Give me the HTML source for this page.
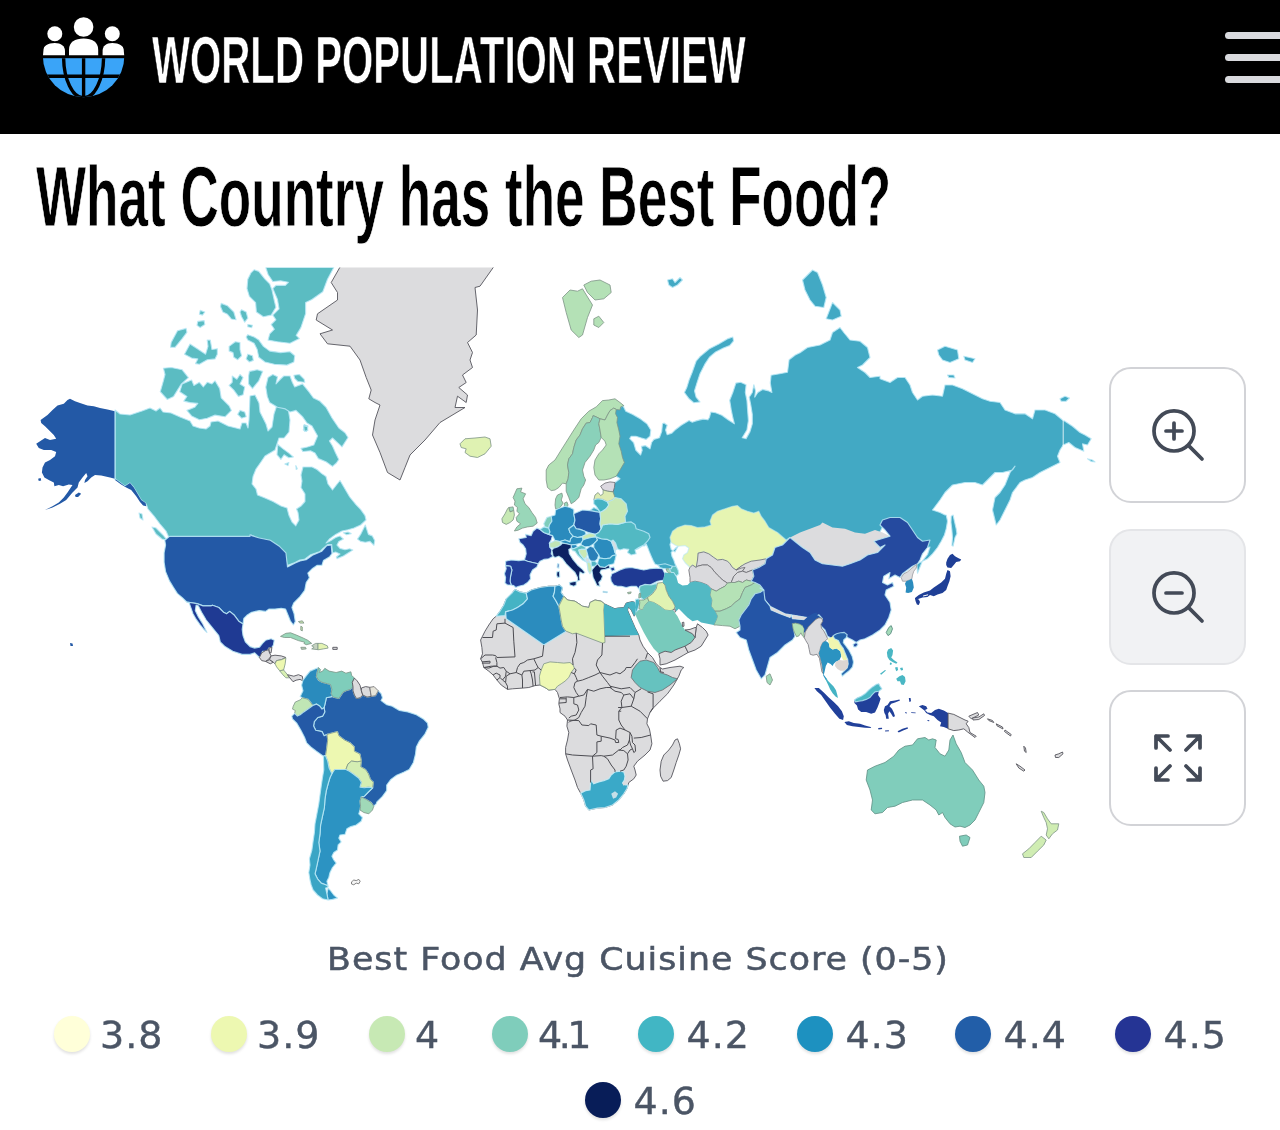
<!DOCTYPE html>
<html lang="en">
<head>
<meta charset="utf-8">
<title>What Country has the Best Food?</title>
<style>
*{box-sizing:border-box;margin:0;padding:0}
html,body{width:1280px;height:1130px;overflow:hidden;background:#fff}
body{position:relative;font-family:"Liberation Sans",sans-serif}
#hdr{position:absolute;left:0;top:0;width:1280px;height:134px;background:#000}
#brand{position:absolute;left:152px;top:19.5px;height:80px;line-height:80px;font-size:67px;font-weight:700;color:#fff;white-space:nowrap;transform-origin:0 50%;transform:scaleX(.6005);-webkit-text-stroke:.7px #000}
#title{position:absolute;left:36px;top:151px;height:90px;line-height:90px;font-size:86px;font-weight:700;color:#000;white-space:nowrap;transform-origin:0 50%;transform:scaleX(.6173);-webkit-text-stroke:.8px #fff}
.bar{position:absolute;left:1225px;width:70px;height:7px;border-radius:3.5px;background:#d9dade}
#map{position:absolute;left:0;top:0}
.btn{position:absolute;left:1109px;width:137px;height:136px;border:2.5px solid #d2d3d7;border-radius:22px;background:#fff}
.btn svg{position:absolute;left:35px;top:34px;width:64px;height:64px;fill:none;stroke:#434a57;stroke-width:1.4;stroke-linecap:round;stroke-linejoin:round}
#ltitle{position:absolute;left:0;top:938px;width:1276px;text-align:center;font-family:"DejaVu Sans",sans-serif;font-size:32.5px;letter-spacing:.94px;line-height:42px;color:#4b5565;white-space:nowrap;transform:scaleX(1.07);transform-origin:50% 50%;-webkit-text-stroke:.55px #4b5565}
.li{position:absolute;height:44px;line-height:44px;font-family:"DejaVu Sans",sans-serif;font-size:38px;letter-spacing:1px;color:#4b5565;white-space:nowrap;-webkit-text-stroke:.4px #4b5565}
.dot{position:absolute;width:36px;height:36px;border-radius:50%;box-shadow:0 2px 3px rgba(0,0,0,.12)}
</style>
</head>
<body>
<div id="hdr">
<svg id="logo" style="position:absolute;left:0;top:0" width="140" height="134" viewBox="0 0 140 134">
<defs><clipPath id="gc"><circle cx="83.6" cy="56.5" r="40.7"/></clipPath><clipPath id="lh"><rect x="40" y="58.2" width="90" height="42"/></clipPath></defs>
<g clip-path="url(#gc)">
<rect x="40" y="58.2" width="90" height="42" fill="#3aa4f8"/>
<g clip-path="url(#lh)" fill="none" stroke="#000" stroke-width="3.4">
<path d="M40 76.3H128M83.6 56V100"/>
<ellipse cx="83.6" cy="56.5" rx="20" ry="41.5"/>
</g>
<g fill="#fff">
<path d="M69 55.2V50C69 42 75 38.6 83.6 38.6S98.2 42 98.2 50V55.2Z"/>
<path d="M42 55.2V52C42.8 46 48 43 54.8 43C61 43 65 46 65 51V55.2Z"/>
<path d="M102.6 55.2V51C102.6 46 106 43 112.3 43C119 43 124.3 46 125 52V55.2Z"/>
</g>
</g>
<g fill="#fff"><circle cx="83.6" cy="27" r="9.8"/><circle cx="54.8" cy="33.7" r="7.5"/><circle cx="112.3" cy="33.7" r="7.5"/></g>

</svg>
<div id="brand">WORLD POPULATION REVIEW</div>
<div class="bar" style="top:32px"></div><div class="bar" style="top:54px"></div><div class="bar" style="top:76px"></div>
</div>
<div id="title">What Country has the Best Food?</div>
<svg id="map" width="1280" height="1130" viewBox="0 0 1280 1130">
<defs><clipPath id="mc"><rect x="0" y="267.5" width="1280" height="640"/></clipPath></defs>
<g clip-path="url(#mc)" stroke-linejoin="round">
<path d="M623.4,406.6L625.8,411.2L632.8,414.4L640.6,419.1L646.9,423.8L650.8,430.0L650.0,436.2L646.1,439.4L640.6,437.8L635.9,436.2L631.2,436.2L629.7,438.6L633.6,442.5L635.9,450.3L640.6,455.0L642.2,450.3L641.4,446.4L645.3,445.6L650.0,448.8L651.6,442.5L653.9,439.4L659.4,437.8L661.7,431.6L662.5,423.8L664.1,423.0L667.2,425.3L665.6,430.0L667.2,434.7L671.9,433.1L675.0,430.0L681.2,425.3L689.1,420.6L692.2,422.2L696.9,420.6L703.1,419.1L707.8,419.8L709.4,417.5L710.9,412.0L715.6,412.8L721.9,415.2L728.1,419.8L734.4,423.8L732.8,417.5L731.2,409.7L729.7,400.3L732.8,392.5L735.9,383.1L740.6,382.3L746.1,384.7L745.3,392.5L746.9,400.3L747.7,411.2L748.4,420.6L746.9,430.0L742.2,437.8L746.1,438.6L750.0,431.6L752.3,423.8L752.3,414.4L750.8,405.0L749.2,397.2L752.3,392.5L753.9,384.7L755.5,390.9L754.7,397.2L757.8,392.5L762.5,389.4L768.8,390.9L771.9,392.5L770.3,383.1L771.1,375.3L779.7,373.8L787.5,372.2L789.1,359.7L795.3,355.0L800.0,352.7L807.5,347.5L820.0,345.0L830.0,340.0L832.5,332.5L840.0,327.5L843.8,332.5L850.0,340.0L860.0,341.2L867.5,347.5L870.0,357.5L862.5,365.0L857.5,367.5L865.0,372.5L870.0,377.5L880.0,376.2L880.0,378.8L890.0,382.5L897.5,377.5L905.0,377.5L910.0,385.0L912.5,392.5L917.5,400.0L922.5,396.2L932.5,395.0L942.5,396.2L945.0,385.0L952.5,385.0L962.5,388.8L972.5,393.8L982.5,398.8L990.0,401.2L1000.0,402.5L1005.0,410.0L1015.0,413.8L1025.0,413.8L1032.5,418.8L1035.0,410.0L1045.0,410.0L1055.0,413.8L1062.5,420.0L1065.0,421.2L1072.5,426.2L1080.0,432.5L1085.0,435.0L1091.2,438.8L1087.5,445.0L1082.5,443.8L1083.8,451.2L1075.0,447.5L1068.8,442.5L1063.2,445.0L1060.0,450.0L1057.5,456.2L1060.0,462.5L1050.0,467.5L1040.0,472.5L1032.5,477.5L1025.0,480.0L1020.0,482.5L1012.5,492.5L1010.0,500.0L1005.0,510.0L1000.0,520.0L996.2,525.0L992.5,510.0L995.0,497.5L1000.0,492.5L1005.0,485.0L1010.0,472.5L1015.0,466.2L1012.5,470.0L1002.5,472.5L995.0,472.5L987.5,480.0L982.5,485.0L975.0,482.5L965.0,482.5L952.5,485.0L945.0,492.5L940.0,500.0L932.5,510.0L940.0,512.5L945.0,515.0L946.2,515.0L947.5,521.2L946.2,528.8L944.4,535.0L941.2,541.2L937.5,547.5L932.5,553.8L927.5,558.8L922.5,561.2L918.8,563.1L916.9,564.4L917.5,573.2L920.0,567.0L922.5,560.8L927.5,554.5L930.0,547.0L922.5,548.2L917.5,544.5L912.5,537.0L907.5,529.5L900.0,524.5L890.0,524.5L882.5,527.0L880.0,532.0L885.0,537.0L890.0,543.2L882.5,539.5L875.0,537.0L865.0,540.8L855.0,539.5L845.0,535.8L832.5,534.5L822.5,529.5L820.0,532.0L810.0,535.8L800.0,539.5L790.0,544.5L786.2,547.0L777.5,539.5L768.8,534.5L765.0,528.2L761.2,523.2L758.8,518.2L753.8,520.1L747.5,518.2L741.2,515.8L737.5,512.6L732.5,513.2L725.0,515.8L717.5,518.2L712.5,522.0L710.0,528.2L711.2,532.0L705.0,533.9L697.5,534.5L691.2,532.6L685.0,532.0L677.5,534.5L672.5,538.2L670.0,544.5L671.2,549.5L671.9,550.1L675.0,552.0L678.1,546.2L676.2,547.5L673.8,550.0L671.2,552.5L671.9,556.2L673.8,560.0L675.0,563.8L676.2,566.2L676.2,571.2L672.5,571.2L668.8,570.0L665.0,568.8L660.0,567.5L658.1,565.2L655.0,564.0L653.1,560.6L651.2,556.2L649.4,551.9L647.5,546.9L646.2,544.0L644.4,546.0L641.2,545.6L635.2,549.6L637.8,549.0L641.5,546.5L644.0,542.8L644.0,538.4L641.5,535.2L635.2,531.5L629.0,527.8L626.5,524.6L620.2,525.2L619.6,522.2L619.0,516.2L621.5,511.2L620.2,503.8L615.2,498.8L609.0,497.5L607.1,491.9L608.4,487.5L615.0,482.5L620.0,478.8L616.2,476.2L610.2,476.2L614.0,470.0L618.4,462.5L616.5,457.5L615.2,451.2L612.8,443.8L614.0,436.2L612.8,430.0L610.9,422.5L611.5,417.5L609.6,413.8L610.2,409.4L614.0,410.0L620.6,406.9L623.8,405.6Z" fill="#42a9c4" stroke="rgba(185,232,246,.85)" stroke-width="1.15"/>
<path d="M590.0,510.6L593.8,507.5L598.8,510.0L600.0,512.5Z" fill="#42a9c4" stroke="rgba(185,232,246,.85)" stroke-width="1.15"/>
<path d="M515.0,589.4L520.0,591.9L526.2,593.1L531.2,590.0L540.0,587.5L548.8,586.2L555.0,586.2L559.4,585.0L562.5,587.5L561.2,592.5L563.8,596.2L567.5,600.0L575.0,601.2L582.5,606.2L588.8,607.5L590.0,602.5L595.0,600.0L601.2,601.2L604.4,603.8L615.0,608.8L617.5,608.0L623.8,607.5L626.2,603.0L632.5,601.5L635.0,602.5L635.5,613.8L634.2,616.2L631.2,610.0L628.5,607.0L627.5,610.0L631.2,618.8L635.0,627.5L638.8,635.0L640.0,640.0L643.0,646.2L647.5,652.5L652.5,657.5L656.2,663.8L660.0,667.5L662.5,669.0L670.0,667.5L680.0,666.2L683.8,667.5L681.2,670.0L678.8,676.2L673.8,685.0L667.5,693.8L660.0,701.2L653.8,707.5L650.0,712.5L647.5,718.8L646.9,723.8L649.4,728.8L650.6,735.0L651.9,743.8L650.0,750.0L645.0,755.0L637.5,761.2L633.8,766.2L635.0,770.0L636.2,775.0L633.8,778.8L628.8,782.5L628.1,785.0L626.9,788.8L623.8,793.8L618.8,800.0L612.5,805.0L605.0,807.5L597.5,808.1L588.8,810.0L585.6,806.2L583.8,800.0L580.6,793.1L577.5,787.5L575.0,780.0L571.2,770.0L567.5,760.0L565.6,753.8L565.6,747.5L567.5,740.0L568.8,732.5L566.9,726.2L567.5,720.0L565.0,716.2L560.0,712.5L560.0,708.8L558.8,703.8L559.4,698.8L557.5,692.5L555.0,689.4L548.8,690.0L545.0,687.5L540.0,685.0L535.0,685.6L528.8,687.5L522.5,688.1L512.5,688.8L507.5,689.4L501.2,685.0L496.9,680.0L493.1,675.0L488.8,671.2L483.8,667.5L482.5,662.5L480.6,658.8L482.5,653.8L481.9,647.5L480.6,640.0L482.5,636.2L485.0,631.2L488.8,625.0L493.1,618.8L496.2,616.2L500.0,611.2L503.8,605.0L506.2,598.8L512.5,592.5Z" fill="#dcdcde" stroke="#55555c" stroke-width="0.9"/>
<path d="M115.0,410.0L120.0,414.0L130.0,415.0L142.0,411.0L150.0,408.0L156.0,411.0L160.0,408.0L163.0,412.0L171.0,413.0L180.0,417.0L190.0,421.0L193.0,426.0L199.0,428.0L206.0,429.0L210.0,426.0L211.0,422.0L218.0,421.0L228.0,426.0L240.0,429.0L242.0,423.0L246.0,423.0L248.0,428.0L249.0,420.0L250.0,396.0L255.0,395.0L259.0,403.0L260.0,412.0L263.0,418.0L266.0,424.0L268.0,431.0L272.0,427.0L274.0,414.0L277.0,405.0L281.0,403.0L288.0,408.0L290.0,420.0L289.0,432.0L284.0,438.0L279.0,438.0L275.0,450.0L265.0,456.0L260.6,462.5L256.0,469.0L253.0,476.5L252.0,484.0L256.0,489.0L257.5,495.0L265.0,498.0L273.0,501.5L281.0,506.0L287.0,508.0L289.0,515.6L292.0,522.0L295.8,525.8L299.0,520.0L298.0,512.5L296.5,509.0L301.0,506.0L305.0,501.5L305.0,494.0L301.0,487.5L302.0,481.0L301.0,475.0L303.0,467.0L312.0,467.0L317.0,469.5L321.5,473.4L326.0,476.5L328.0,484.0L332.5,490.0L336.4,485.0L340.0,480.5L345.0,489.0L349.7,497.0L356.0,504.7L360.6,509.4L365.0,515.6L366.0,520.0L360.6,525.0L354.0,528.0L348.0,529.7L342.0,531.0L335.6,534.4L329.4,539.0L326.0,543.0L331.0,540.5L335.6,537.5L340.0,536.0L343.4,539.0L338.8,541.4L337.0,545.0L340.0,548.4L345.0,549.7L349.7,548.8L352.8,550.0L343.4,556.0L337.0,558.6L336.4,557.0L340.0,554.0L335.6,552.0L332.5,553.0L331.7,544.5L327.8,544.5L323.0,548.4L320.0,551.5L310.6,554.7L304.4,559.4L299.7,560.0L295.0,562.5L287.0,565.6L285.6,556.0L282.5,551.5L277.8,546.9L270.0,540.6L259.0,539.0L251.0,535.0L250.5,536.7L168.6,536.7L166.0,531.0L160.0,524.0L154.0,516.0L148.0,509.0L146.5,505.0L145.6,503.1L141.2,500.0L137.5,493.8L133.8,487.5L130.0,483.1L125.0,486.2L120.0,482.5L115.0,478.8Z" fill="#5bbcc2" stroke="rgba(185,232,246,.85)" stroke-width="1.15"/>
<path d="M357.5,539.1L360.6,534.4L365.3,525.0L366.9,529.7L368.4,534.4L372.3,535.9L374.7,540.6L373.9,545.3L370.0,541.4L365.3,542.2L360.6,541.4ZM343.4,532.8L348.1,532.0L351.2,533.6L346.6,534.7Z" fill="#5bbcc2" stroke="rgba(185,232,246,.85)" stroke-width="1.15"/>
<path d="M152.0,527.0L156.0,528.0L163.0,535.0L167.0,540.0L162.0,539.0L156.0,534.0ZM139.0,513.0L142.0,514.0L143.0,520.0L140.0,518.0Z" fill="#5bbcc2" stroke="rgba(185,232,246,.85)" stroke-width="1.15"/>
<path d="M268.0,377.6L265.8,387.0L267.3,396.4L269.7,402.6L277.5,407.3L285.3,408.9L290.0,412.0L296.0,410.4L302.5,416.7L307.0,423.0L312.0,426.0L317.6,436.0L313.8,445.0L307.5,447.0L301.0,448.4L302.8,451.5L310.6,450.8L315.0,453.0L318.4,458.6L326.0,461.7L332.5,466.4L336.4,463.0L338.8,459.4L335.6,453.0L332.5,446.0L329.4,441.0L332.5,438.0L338.8,443.8L342.0,446.9L348.0,437.5L345.0,432.8L338.8,428.0L332.0,418.0L326.0,407.3L319.7,401.0L313.4,398.0L308.8,391.7L302.5,383.9L294.7,387.0L292.3,382.3L290.0,376.0L283.8,376.0L280.6,379.0L276.0,383.9L277.5,376.8L272.8,374.5Z" fill="#5bbcc2" stroke="rgba(185,232,246,.85)" stroke-width="1.15"/>
<path d="M265.8,267.5L333.8,267.5L327.5,279.2L322.8,291.7L311.9,299.5L305.6,302.6L305.6,313.6L300.9,327.6L296.2,335.4L299.4,338.6L290.0,343.2L277.5,341.7L268.1,340.1L269.7,333.9L274.4,329.2L271.2,324.5L275.9,319.8L272.8,315.1L279.1,308.9L277.5,299.5L272.8,288.6L275.9,285.4L285.3,285.4L288.4,282.3L280.6,280.8L272.8,281.5L268.1,274.5ZM254.1,269.8L258.8,271.4L265.0,279.2L269.7,283.9L272.0,290.1L274.4,301.1L275.9,307.3L271.2,315.1L263.4,316.7L256.4,312.0L255.6,302.6L249.4,296.4L247.0,288.6L247.8,279.2L250.9,272.9ZM247.8,334.7L254.1,337.0L258.8,340.1L263.4,346.4L269.7,351.1L280.6,352.6L290.0,351.8L294.7,355.8L293.9,362.0L286.9,365.1L274.4,364.3L265.0,362.0L258.8,357.3L257.2,349.5L254.1,343.2L247.8,340.1L246.2,337.0ZM221.2,303.4L227.5,305.8L233.8,312.0L236.1,319.8L231.4,319.0L227.5,314.3L222.8,312.0L220.5,306.5ZM241.6,309.7L246.2,312.0L247.8,318.2L244.7,322.2L241.6,316.7L240.0,312.0ZM247.8,324.5L252.5,325.3L251.7,327.6L247.8,326.8ZM200.2,310.4L204.8,312.0L202.5,315.1L199.4,314.3ZM197.8,321.4L204.1,320.6L204.8,324.5L200.2,327.6L197.0,325.3ZM171.2,342.5L177.5,330.8L186.1,328.4L186.9,332.3L182.2,338.6L175.2,347.2L170.5,347.2ZM184.5,354.2L190.0,344.0L196.2,347.9L205.6,354.2L208.0,346.4L207.2,340.1L210.3,340.1L211.9,349.5L217.3,348.7L217.3,354.2L215.0,358.9L207.2,359.7L199.4,364.3L195.5,363.6L197.8,358.9L191.6,358.1ZM229.1,346.4L235.3,341.7L240.0,342.5L240.0,349.5L241.6,355.8L237.7,359.7L233.8,357.3L233.0,352.6L229.1,351.1ZM247.8,354.2L252.5,355.8L253.3,360.4L249.4,362.0L246.2,358.9ZM163.4,368.2L171.2,367.5L182.2,369.8L188.4,377.6L181.4,383.9L177.5,390.1L173.6,396.4L167.3,399.5L160.3,391.7L163.4,380.8L165.0,374.5ZM182.2,383.9L191.6,380.0L193.9,385.4L199.4,382.3L203.3,387.0L207.2,382.3L211.9,383.9L215.0,380.8L219.7,388.6L221.2,397.9L229.1,405.8L231.4,410.4L225.2,416.7L215.0,415.1L207.2,418.2L199.4,419.8L191.6,415.9L186.9,410.4L194.7,407.3L197.8,403.4L190.0,402.6L183.8,401.1L186.9,396.4L179.8,391.7ZM232.2,376.1L236.9,379.2L240.0,374.5L243.1,377.6L240.0,383.9L244.7,387.0L243.1,394.8L238.4,396.4L233.8,390.1L229.1,385.4L232.2,382.3ZM249.4,371.4L257.2,369.8L262.7,371.4L258.8,380.8L252.5,388.6L248.6,383.9L248.6,376.1ZM293.9,375.3L299.4,374.5L304.1,379.2L304.8,382.3L297.8,381.5L294.7,378.4ZM240.0,410.4L244.7,412.0L246.2,416.7L241.6,418.2L237.7,414.3ZM304.1,424.5L308.0,426.1L306.4,431.5L303.3,430.0Z" fill="#5bbcc2" stroke="rgba(185,232,246,.85)" stroke-width="1.15"/>
<path d="M277.8,444.5L282.5,448.4L288.8,453.1L293.4,457.0L288.8,457.8L284.1,454.7L280.9,459.4L277.0,454.7ZM284.8,464.1L288.8,462.5L288.0,465.6ZM295.8,465.6L297.3,468.8L296.2,469.5ZM303.6,425.8L307.5,426.6L307.8,430.5L304.4,431.2Z" fill="#5bbcc2" stroke="rgba(185,232,246,.85)" stroke-width="1.15"/>
<path d="M115.0,411.2L107.5,409.4L100.0,408.1L93.8,406.2L87.5,405.6L80.0,403.1L75.0,401.2L70.0,398.8L67.5,400.0L63.8,403.8L57.5,405.6L52.5,410.0L47.5,415.0L40.6,420.0L41.2,423.1L45.0,426.2L48.8,430.0L53.8,435.0L56.2,438.8L50.0,440.0L45.0,438.1L36.2,443.8L38.8,448.1L43.8,450.0L51.2,450.0L56.2,451.9L55.0,456.2L50.0,460.0L45.0,462.5L42.5,467.5L41.9,472.5L44.4,477.5L48.8,480.0L53.8,482.5L54.4,486.2L58.8,485.0L63.1,486.2L68.8,484.4L72.5,485.0L70.0,488.8L67.5,492.5L63.8,497.5L58.8,502.5L52.5,506.2L45.0,510.0L52.5,507.5L60.0,503.8L66.2,500.0L72.5,492.5L77.5,487.5L78.8,482.5L82.5,477.5L86.2,473.1L87.5,476.2L85.0,480.0L84.4,483.1L87.5,481.2L91.2,477.5L95.0,475.0L101.2,475.6L110.0,477.5L115.0,478.8L120.0,482.5L125.0,486.2L130.0,483.1L133.8,487.5L137.5,493.8L141.2,500.0L145.6,503.1L146.2,506.2L143.1,505.6L140.0,501.9L136.2,496.2L131.2,490.0L126.2,487.5L121.2,484.4L115.0,480.0ZM75.0,495.0L78.8,492.5L81.2,493.8L78.1,496.9L75.6,496.9ZM38.1,478.8L40.6,478.1L41.2,480.6L38.8,481.0Z" fill="#2359a6" stroke="none" stroke-width="0.8"/>
<path d="M115.0,411.0L115.0,480.0" fill="none" stroke="rgba(185,232,246,.9)" stroke-width="1.2"/>
<path d="M341.2,265.0L331.2,282.5L337.5,292.5L337.5,300.0L317.5,313.8L316.2,320.0L332.5,330.0L320.0,333.8L327.5,343.8L350.0,346.2L360.0,360.0L366.2,377.5L371.2,390.0L368.8,398.8L375.0,402.5L380.0,405.0L375.0,420.0L372.5,435.0L380.0,452.5L387.5,472.5L400.0,480.0L405.0,467.5L410.0,455.0L425.0,440.0L440.0,422.5L465.0,407.5L455.0,407.5L457.5,396.2L466.2,402.5L467.5,395.0L458.8,387.5L466.2,382.5L462.5,375.0L472.5,367.5L470.0,360.0L472.5,352.5L467.5,342.5L476.2,335.0L477.5,310.0L475.0,287.5L480.0,286.2L495.0,265.0Z" fill="#dcdcde" stroke="#55555c" stroke-width="0.9"/>
<path d="M169.5,536.4L250.0,536.4L250.0,534.8L251.6,535.6L259.4,538.0L270.3,540.3L279.7,546.6L285.9,552.8L287.5,566.9L295.3,563.0L300.0,560.9L306.2,559.8L312.5,555.2L321.9,551.2L326.6,545.8L331.2,545.0L332.0,553.6L329.7,556.7L323.4,560.6L321.9,565.3L317.2,565.3L312.5,568.4L307.8,573.1L309.4,577.8L306.2,582.5L304.7,590.3L300.0,596.6L293.8,602.8L291.9,607.5L294.1,613.8L295.3,621.6L293.4,625.0L290.3,620.8L287.8,614.5L285.6,609.1L281.2,608.3L275.0,609.1L268.8,609.1L265.6,611.4L259.4,610.6L251.6,612.2L246.9,615.3L243.8,618.4L243.0,623.9L239.1,621.6L234.4,615.3L229.7,611.4L226.6,613.8L223.4,612.2L218.8,607.5L212.5,605.2L210.9,605.9L203.1,605.9L196.9,603.6L186.7,602.0L182.8,598.1L177.3,593.4L173.4,587.2L169.5,580.9L165.6,571.6L164.1,562.2L164.1,552.8L165.6,545.0L164.8,540.3Z" fill="#2359a6" stroke="rgba(185,232,246,.85)" stroke-width="1.15"/>
<path d="M186.7,602.0L196.9,603.6L203.1,605.9L210.9,605.9L212.5,605.2L218.8,607.5L223.4,612.2L226.6,613.8L229.7,611.4L234.4,615.3L239.1,621.6L243.0,623.9L242.2,629.4L243.0,635.6L245.3,641.9L250.0,646.6L254.7,648.1L259.4,647.3L262.5,643.4L265.6,640.3L271.1,638.8L274.2,640.3L273.4,645.0L271.9,647.3L268.8,648.1L267.2,651.2L262.5,651.2L261.7,654.4L259.4,657.5L254.7,652.8L250.0,654.4L242.2,654.4L232.8,651.2L225.0,646.6L220.3,641.9L218.8,635.6L212.5,627.8L206.2,620.0L201.6,612.2L198.4,605.9L196.1,605.2L195.3,610.6L198.4,616.9L202.3,623.1L205.5,629.4L207.0,632.5L203.9,629.4L200.0,624.7L196.1,619.2L193.0,613.8L191.4,609.1L189.1,602.8Z" fill="#1f3a93" stroke="rgba(185,232,246,.85)" stroke-width="1.15"/>
<path d="M259.4,657.5L261.7,652.8L265.6,650.5L268.8,649.7L269.5,652.8L271.1,655.9L268.8,659.1L265.6,661.4L261.7,660.6Z" fill="#dcdcde" stroke="#55555c" stroke-width="0.9"/>
<path d="M268.8,648.1L271.9,647.3L271.1,652.8L269.5,652.8Z" fill="#dcdcde" stroke="#55555c" stroke-width="0.9"/>
<path d="M265.6,661.4L269.5,659.8L273.4,662.2L270.3,663.8Z" fill="#dcdcde" stroke="#55555c" stroke-width="0.9"/>
<path d="M271.1,655.9L275.0,655.2L281.2,655.9L285.9,657.5L281.2,659.8L276.6,660.6L275.0,663.8L273.4,662.2L269.5,659.5Z" fill="#dcdcde" stroke="#55555c" stroke-width="0.9"/>
<path d="M275.0,663.8L276.6,660.6L281.2,659.8L285.9,657.8L285.2,663.8L283.6,670.0L279.7,670.8L276.6,666.9Z" fill="#edf8b1" stroke="#7d9486" stroke-width="0.8"/>
<path d="M279.7,670.8L283.6,670.0L287.5,674.7L289.8,677.8L285.9,677.8L282.8,674.7Z" fill="#d9f0b3" stroke="#7d9486" stroke-width="0.8"/>
<path d="M289.8,677.8L287.5,674.7L293.8,676.2L298.4,674.7L302.3,676.2L303.1,680.9L300.0,679.4L296.1,680.2L293.0,681.7Z" fill="#dcdcde" stroke="#55555c" stroke-width="0.9"/>
<path d="M280.5,636.4L285.9,633.3L290.6,632.8L296.9,635.3L303.1,638.0L307.8,640.3L311.7,643.4L306.2,644.7L303.9,643.4L304.7,642.2L298.4,640.6L290.6,637.5L284.4,637.5Z" fill="#99d7b9" stroke="#7d9486" stroke-width="0.8"/>
<path d="M298.4,621.6L302.3,620.8L303.9,623.1L300.0,623.1ZM300.8,626.2L302.3,627.0L302.3,630.9L300.8,630.2Z" fill="#c9e3b0" stroke="#7d9486" stroke-width="0.8"/>
<path d="M300.8,647.3L305.5,647.3L306.2,648.9L301.6,649.4Z" fill="#b9c9b5" stroke="#7d9486" stroke-width="0.8"/>
<path d="M311.7,645.8L315.6,643.4L318.0,643.4L318.0,649.7L311.7,648.9L314.1,647.3Z" fill="#c5d2c0" stroke="#7d9486" stroke-width="0.8"/>
<path d="M318.0,643.4L321.9,643.4L327.3,645.8L328.1,648.1L323.4,648.9L318.8,649.7L318.0,649.7Z" fill="#e3f3b2" stroke="#7d9486" stroke-width="0.8"/>
<path d="M332.8,647.3L337.2,647.3L337.2,649.4L332.8,649.4Z" fill="#dcdcde" stroke="#55555c" stroke-width="0.9"/>
<path d="M338.9,698.5L340.3,696.4L343.1,692.2L345.9,690.8L350.2,689.4L353.0,686.6L353.0,690.8L354.4,695.0L356.5,698.5L360.0,697.8L362.8,695.0L367.0,697.1L371.3,696.4L375.5,695.7L378.3,690.8L381.1,693.6L382.5,697.8L381.1,700.6L386.7,704.8L392.3,706.3L399.4,710.5L407.8,711.9L416.3,714.7L423.3,718.9L427.5,723.1L428.2,727.3L424.7,734.4L419.1,741.4L416.3,747.0L415.5,754.1L413.4,762.5L409.2,769.5L403.6,772.3L396.6,775.2L390.9,779.4L386.7,785.0L386.7,790.6L382.5,796.3L376.9,801.9L376.2,803.8L373.8,806.2L371.2,802.5L366.2,799.4L361.2,796.9L364.2,796.3L368.4,792.0L372.7,787.8L373.4,782.2L370.5,779.4L368.4,773.8L365.6,769.5L360.7,766.7L361.4,761.1L360.0,754.1L354.4,751.3L354.4,747.0L350.2,742.8L344.5,740.0L338.9,735.8L337.5,731.6L331.9,733.0L327.0,734.4L324.1,735.8L322.0,731.6L315.7,730.2L313.6,725.9L314.3,721.7L317.8,717.5L322.7,716.1L324.8,711.9L324.1,707.7L325.5,702.0L326.3,697.8L332.6,696.4L333.3,697.1Z" fill="#2560a9" stroke="rgba(185,232,246,.85)" stroke-width="1.15"/>
<path d="M303.0,680.2L306.6,675.3L310.1,671.1L315.0,669.0L318.5,667.6L317.1,672.5L316.4,676.7L318.5,680.2L322.0,682.3L327.7,683.8L330.5,684.5L331.9,689.4L331.2,693.6L332.6,696.4L326.3,697.8L325.5,702.0L324.1,707.7L322.0,709.1L319.9,706.3L316.4,704.1L312.9,705.5L310.8,702.7L308.0,699.2L302.3,697.8L300.2,696.4L303.0,690.8L301.6,685.2Z" fill="#2a8bbd" stroke="rgba(185,232,246,.85)" stroke-width="1.15"/>
<path d="M318.5,667.6L320.6,669.7L319.2,672.5L322.7,671.1L324.8,668.3L329.1,671.1L336.1,672.5L341.7,671.1L345.9,673.2L350.9,671.8L351.6,675.3L354.4,678.1L352.3,682.3L353.0,686.6L350.2,689.4L345.9,690.8L343.1,692.2L340.3,696.4L338.9,698.5L333.3,697.1L332.6,696.4L331.2,693.6L331.9,689.4L330.5,684.5L327.7,683.8L322.0,682.3L318.5,680.2L316.4,676.7L317.1,672.5Z" fill="#7fcdbb" stroke="#7d9486" stroke-width="0.8"/>
<path d="M354.4,678.1L357.2,680.9L360.0,685.2L361.4,690.8L362.8,695.0L360.0,697.8L356.5,698.5L354.4,695.0L353.0,690.8L353.0,686.6L352.3,682.3Z" fill="#dcdcde" stroke="#55555c" stroke-width="0.9"/>
<path d="M361.4,688.0L365.6,686.6L369.8,687.3L370.5,692.2L371.3,696.4L367.0,697.1L362.8,695.0L361.4,690.8Z" fill="#dcdcde" stroke="#55555c" stroke-width="0.9"/>
<path d="M369.8,687.3L374.1,686.6L378.3,690.8L375.5,695.7L371.3,696.4L370.5,692.2Z" fill="#e6e4da" stroke="#6b6b70" stroke-width="0.8"/>
<path d="M293.2,706.3L295.3,702.0L300.2,699.9L302.3,697.8L308.0,699.2L310.8,702.7L312.9,705.5L308.0,709.1L303.8,711.9L300.2,714.7L297.4,716.1L294.6,713.3L295.3,710.5L292.5,709.1Z" fill="#c0e6b5" stroke="#7d9486" stroke-width="0.8"/>
<path d="M294.6,713.3L297.4,716.1L300.2,714.7L303.8,711.9L308.0,709.1L312.9,705.5L316.4,704.1L319.9,706.3L322.0,709.1L324.1,707.7L324.8,711.9L322.7,716.1L317.8,717.5L314.3,721.7L313.6,725.9L315.7,730.2L322.0,731.6L324.1,735.8L327.0,734.4L327.7,740.0L327.0,745.6L326.3,751.3L325.5,755.5L323.4,756.2L316.4,751.3L310.8,747.0L306.6,742.8L304.5,737.2L300.9,730.2L296.7,723.1L292.5,718.9L291.8,716.1Z" fill="#2459a6" stroke="rgba(185,232,246,.85)" stroke-width="1.15"/>
<path d="M327.0,734.4L331.9,733.0L337.5,731.6L338.9,735.8L344.5,740.0L350.2,742.8L354.4,747.0L354.4,751.3L360.0,754.1L361.4,761.1L357.2,761.8L351.6,761.1L348.0,763.9L345.9,769.5L340.3,769.5L334.7,769.5L331.9,773.8L329.1,768.1L327.7,761.1L325.5,755.5L326.3,751.3L327.0,745.6L327.7,740.0Z" fill="#edf8b1" stroke="#7d9486" stroke-width="0.8"/>
<path d="M348.0,763.9L351.6,761.1L357.2,761.8L361.4,761.1L360.7,766.7L365.6,769.5L368.4,773.8L370.5,779.4L373.4,782.2L372.7,787.8L368.4,787.1L364.2,787.8L360.0,787.1L361.4,782.2L358.6,778.0L353.0,773.8L348.8,770.9L345.9,769.5Z" fill="#d4eeb3" stroke="#7d9486" stroke-width="0.8"/>
<path d="M331.9,773.8L334.7,769.5L340.3,769.5L345.9,769.5L348.8,770.9L353.0,773.8L358.6,778.0L361.4,782.2L360.0,787.1L364.2,787.8L368.4,787.1L372.7,787.8L368.4,792.0L364.2,796.3L361.2,796.9L360.0,801.2L360.6,806.2L360.0,810.0L358.8,813.8L362.5,817.5L361.2,821.2L356.2,825.0L350.0,826.9L346.9,828.8L345.0,834.4L340.0,835.0L338.8,838.1L341.2,841.9L338.1,845.0L337.5,850.0L333.8,852.5L331.9,856.2L333.8,860.0L336.2,863.1L332.5,867.5L330.0,872.5L328.8,877.5L326.9,881.2L328.1,886.2L326.2,885.0L321.2,883.1L317.5,878.8L315.0,873.8L316.2,868.8L318.1,860.0L320.0,851.2L318.8,842.5L320.0,833.8L320.6,825.0L322.5,816.2L324.4,807.5L325.0,798.8L326.2,791.2L328.1,783.8L330.0,777.5L332.5,772.5ZM328.1,888.1L330.0,890.0L333.8,895.0L337.5,898.1L332.5,899.4L328.1,900.0L326.9,893.8Z" fill="#2c93c2" stroke="rgba(185,232,246,.85)" stroke-width="1.15"/>
<path d="M325.5,755.5L327.7,761.1L329.1,768.1L331.9,773.8L332.5,772.5L330.0,777.5L328.1,783.8L326.2,791.2L325.0,798.8L324.4,807.5L322.5,816.2L320.6,825.0L320.0,833.8L318.8,842.5L320.0,851.2L318.1,860.0L316.2,868.8L315.0,873.8L317.5,878.8L321.2,883.1L326.2,885.0L328.1,886.2L327.5,887.5L325.6,888.1L326.9,893.8L328.1,900.0L322.5,898.8L317.5,895.0L313.1,890.0L311.2,885.0L310.0,880.0L308.8,872.5L310.0,865.0L309.4,858.8L311.9,850.0L313.1,841.2L314.4,832.5L315.0,823.8L316.9,813.8L318.8,803.8L320.0,795.0L321.2,786.2L322.5,777.5L323.8,770.0L323.4,756.2Z" fill="#3aa5c5" stroke="rgba(185,232,246,.85)" stroke-width="1.15"/>
<path d="M361.2,796.9L366.2,799.4L371.2,802.5L373.8,806.2L372.5,810.0L368.8,813.8L363.8,812.5L360.0,810.0L360.6,806.2L360.0,801.2Z" fill="#a0d9b8" stroke="#7d9486" stroke-width="0.8"/>
<path d="M351.5,881.9L353.8,880.0L356.2,880.6L358.8,879.4L360.2,881.2L358.8,883.8L356.2,883.1L353.8,884.8L351.5,884.0Z" fill="#f4f4f4" stroke="#777" stroke-width="0.9"/>
<path d="M551.2,490.6L547.5,487.5L546.2,480.0L546.2,470.0L548.8,465.0L555.0,460.0L561.2,450.0L567.5,440.0L573.8,430.0L581.2,418.8L588.8,411.2L596.2,406.9L602.5,400.6L608.8,400.0L615.0,398.8L620.0,402.5L623.8,405.6L620.6,406.9L620.0,410.0L616.2,409.4L613.8,408.1L610.0,410.6L607.5,415.0L605.0,420.0L600.0,418.8L596.2,416.9L593.1,415.6L592.5,417.5L590.0,422.5L586.2,423.1L582.5,428.8L580.0,435.0L576.2,440.0L573.8,447.5L572.5,453.8L568.8,458.8L567.5,465.0L568.8,472.5L568.1,478.8L566.2,483.8L562.5,483.1L558.8,487.5L555.0,490.0Z" fill="#b4e1b6" stroke="#7d9486" stroke-width="0.8"/>
<path d="M593.1,415.6L596.2,416.9L600.0,418.8L598.8,423.8L600.0,430.0L601.2,437.5L598.8,442.5L595.6,445.0L593.8,450.0L590.0,456.2L585.0,462.5L582.5,470.0L583.8,476.2L585.6,480.0L583.8,485.0L581.2,488.8L578.8,497.5L575.0,501.2L571.2,503.8L568.8,497.5L566.2,491.2L566.2,483.8L568.1,478.8L568.8,472.5L567.5,465.0L568.8,458.8L572.5,453.8L573.8,447.5L576.2,440.0L580.0,435.0L582.5,428.8L586.2,423.1L590.0,422.5L592.5,417.5Z" fill="#8ad1ba" stroke="#7d9486" stroke-width="0.8"/>
<path d="M600.0,418.8L605.0,420.0L607.5,415.0L610.0,410.6L613.8,408.1L616.2,409.4L615.6,413.8L617.5,417.5L616.9,422.5L618.8,430.0L620.0,436.2L618.8,443.8L621.2,451.2L622.5,457.5L624.4,462.5L620.0,470.0L616.2,476.2L610.0,478.8L603.8,480.0L598.8,480.0L595.0,475.0L593.8,467.5L595.0,460.0L598.8,453.8L602.5,450.0L606.2,445.0L605.0,441.2L601.2,437.5L600.0,430.0L598.8,423.8Z" fill="#b4e1b6" stroke="#7d9486" stroke-width="0.8"/>
<path d="M555.0,505.0L555.6,498.8L557.5,495.0L561.9,493.1L562.5,496.2L561.2,500.0L563.1,503.1L561.2,506.2L558.1,508.8L555.6,508.8ZM564.4,503.1L566.9,501.9L568.1,505.0L566.2,508.1L564.4,506.2Z" fill="#99d7b9" stroke="#7d9486" stroke-width="0.8"/>
<path d="M600.6,486.2L605.0,483.1L610.0,481.9L615.0,482.5L614.4,487.5L613.1,491.9L607.5,491.2L603.1,490.0Z" fill="#dcd8e0" stroke="#6b6b70" stroke-width="0.8"/>
<path d="M595.0,495.0L598.1,492.5L600.6,495.6L603.1,493.8L603.1,490.0L607.5,491.2L613.1,491.9L615.0,497.5L612.5,500.0L607.5,501.9L602.5,499.4L597.5,498.8L593.8,500.0Z" fill="#dcebb2" stroke="#7d9486" stroke-width="0.8"/>
<path d="M593.8,500.0L597.5,498.8L602.5,499.4L607.5,501.9L608.8,505.0L606.2,508.8L602.5,511.2L600.0,512.5L598.8,510.0L596.2,506.2L593.8,503.8Z" fill="#45b3c4" stroke="rgba(185,232,246,.85)" stroke-width="1.15"/>
<path d="M513.1,497.5L516.9,488.8L521.9,488.1L520.6,491.9L525.6,493.8L523.1,498.8L525.0,503.8L528.8,507.5L531.9,512.5L535.6,517.5L537.2,523.1L533.1,526.2L527.5,526.9L522.5,528.1L518.1,530.2L514.4,531.0L516.9,526.9L520.6,523.8L516.9,521.2L516.2,517.5L519.4,513.8L516.9,511.2L517.5,507.5L514.4,505.0L515.0,501.2ZM508.8,507.5L513.1,506.9L513.8,510.6L510.0,511.9Z" fill="#99d7b9" stroke="#7d9486" stroke-width="0.8"/>
<path d="M502.5,522.5L501.9,518.8L505.0,513.8L507.5,508.8L508.8,507.5L510.0,511.9L513.8,510.6L514.4,515.0L513.1,520.0L510.0,522.5L506.2,524.4Z" fill="#c7e9b4" stroke="#7d9486" stroke-width="0.8"/>
<path d="M518.8,538.8L526.2,537.5L525.6,534.4L531.2,535.6L533.1,531.2L536.9,528.1L540.0,529.4L543.8,532.5L548.8,534.4L552.5,535.6L551.2,540.0L549.4,543.1L550.0,547.5L551.9,550.0L551.2,553.8L553.1,556.2L548.8,558.8L543.8,559.4L540.0,561.2L538.1,563.8L532.5,562.5L527.5,561.2L524.4,560.0L526.2,553.8L525.6,548.8L523.1,545.0L520.0,542.5ZM557.5,563.8L559.0,564.0L558.8,568.1L557.2,567.5Z" fill="#213b94" stroke="rgba(185,232,246,.85)" stroke-width="1.15"/>
<path d="M505.6,561.2L511.2,560.0L518.8,560.6L524.4,560.0L527.5,561.2L532.5,562.5L538.1,563.8L536.9,566.9L532.5,570.0L530.0,575.0L530.6,578.8L527.5,582.5L523.8,585.0L518.8,586.2L515.6,587.5L513.8,585.6L511.2,585.0L510.0,581.2L510.6,576.2L511.9,570.0L510.6,566.2L505.6,565.6Z" fill="#22409a" stroke="rgba(185,232,246,.85)" stroke-width="1.15"/>
<path d="M505.6,565.6L510.6,566.2L511.9,570.0L510.6,576.2L510.0,581.2L511.2,585.0L507.5,585.0L505.0,583.1L505.6,577.5L504.4,573.8L506.2,568.8Z" fill="#22409a" stroke="rgba(185,232,246,.85)" stroke-width="1.15"/>
<path d="M543.8,523.8L546.9,517.5L551.2,516.2L551.9,521.2L549.4,525.0L548.8,528.1L545.0,526.9Z" fill="#7fcdbb" stroke="rgba(185,232,246,.85)" stroke-width="1.15"/>
<path d="M540.0,529.4L543.8,526.9L548.8,528.1L550.0,531.9L548.8,534.4L543.8,532.5Z" fill="#52b5c4" stroke="rgba(185,232,246,.85)" stroke-width="1.15"/>
<path d="M551.2,516.2L555.0,515.0L555.6,510.0L558.1,508.8L565.0,506.2L570.0,507.5L573.8,509.4L573.8,513.8L575.0,520.0L573.8,525.0L568.8,528.8L570.0,532.5L573.1,536.2L570.6,538.8L570.0,541.9L565.0,540.0L560.0,541.5L555.0,540.6L552.5,535.6L548.8,534.4L550.0,531.9L548.8,528.1L549.4,525.0L551.9,521.2Z" fill="#2a8bbd" stroke="rgba(185,232,246,.85)" stroke-width="1.15"/>
<path d="M573.8,513.8L582.5,510.0L590.0,510.6L600.0,512.5L600.6,518.8L600.0,523.8L601.2,528.8L598.8,532.5L595.0,534.4L590.0,533.1L585.0,531.2L580.0,529.4L576.2,528.8L573.8,525.0L575.0,520.0Z" fill="#2359a6" stroke="rgba(185,232,246,.85)" stroke-width="1.15"/>
<path d="M568.8,528.8L573.8,525.0L576.2,528.8L580.0,529.4L585.0,531.2L586.2,534.4L582.5,536.2L577.5,537.5L573.1,536.2L570.0,532.5Z" fill="#2f8fc0" stroke="rgba(185,232,246,.85)" stroke-width="1.15"/>
<path d="M560.0,541.5L565.0,540.0L570.0,541.9L570.6,538.8L573.1,536.2L577.5,537.5L582.5,536.9L583.1,540.0L581.2,543.1L576.2,544.4L571.2,545.0L566.2,543.8L562.5,543.1Z" fill="#2a8bbd" stroke="rgba(185,232,246,.85)" stroke-width="1.15"/>
<path d="M550.0,547.5L549.4,543.1L552.5,541.9L555.0,540.6L560.0,541.5L560.6,545.0L557.5,546.9L553.8,548.1Z" fill="#c0e6b5" stroke="rgba(185,232,246,.85)" stroke-width="1.15"/>
<path d="M582.5,536.2L586.2,534.4L590.0,533.1L595.0,534.4L596.2,536.9L591.2,537.5L586.2,538.8L583.1,540.0Z" fill="#c9e9b4" stroke="rgba(185,232,246,.85)" stroke-width="1.15"/>
<path d="M583.1,540.0L586.2,538.8L591.2,537.5L596.2,536.9L597.5,540.0L593.8,543.8L590.0,546.2L585.0,546.9L581.2,545.0L581.2,543.1Z" fill="#2a8bbd" stroke="rgba(185,232,246,.85)" stroke-width="1.15"/>
<path d="M571.2,545.0L576.2,544.4L577.5,546.9L573.8,548.8L571.2,548.1Z" fill="#2a8bbd" stroke="rgba(185,232,246,.85)" stroke-width="1.15"/>
<path d="M571.2,548.1L573.8,548.8L577.5,546.9L581.2,545.0L585.0,546.9L586.2,549.4L581.2,549.4L578.8,550.0L580.0,553.8L583.8,558.8L586.2,561.9L582.5,560.0L577.5,555.0L575.0,551.2L572.5,550.6Z" fill="#5fbfc0" stroke="rgba(185,232,246,.85)" stroke-width="1.15"/>
<path d="M578.8,550.0L581.2,549.4L586.2,549.4L587.5,553.8L586.2,557.5L583.8,558.8L580.0,553.8Z" fill="#c9e9b4" stroke="rgba(185,232,246,.85)" stroke-width="1.15"/>
<path d="M586.2,549.4L590.0,546.2L593.8,547.5L596.2,551.2L598.8,555.0L597.5,558.8L595.0,561.2L591.2,561.2L588.8,558.8L587.5,553.8Z" fill="#2a7fb8" stroke="rgba(185,232,246,.85)" stroke-width="1.15"/>
<path d="M586.2,557.5L588.8,558.8L589.4,561.9L586.9,562.5L585.6,560.0Z" fill="#dcdcde" stroke="rgba(185,232,246,.85)" stroke-width="1.15"/>
<path d="M586.9,562.5L589.4,561.9L591.2,565.0L591.9,570.0L590.0,573.8L588.1,570.6L587.5,566.2Z" fill="#c9e9b4" stroke="rgba(185,232,246,.85)" stroke-width="1.15"/>
<path d="M591.2,561.2L595.0,561.2L597.5,563.8L595.0,566.2L591.5,566.2L591.2,565.0Z" fill="#52b5c4" stroke="rgba(185,232,246,.85)" stroke-width="1.15"/>
<path d="M596.2,536.9L601.2,538.8L607.5,539.4L611.2,541.2L613.8,547.5L615.0,552.5L616.2,555.0L612.5,555.6L610.0,558.1L605.0,558.8L600.0,558.1L598.8,555.0L596.2,551.2L593.8,547.5L593.8,543.8L597.5,540.0Z" fill="#2b8cbe" stroke="rgba(185,232,246,.85)" stroke-width="1.15"/>
<path d="M611.2,541.2L613.1,540.0L615.6,543.1L617.5,548.8L615.6,550.0L615.0,552.5L613.8,547.5Z" fill="#dadde0" stroke="rgba(185,232,246,.85)" stroke-width="1.15"/>
<path d="M598.8,558.8L600.0,558.1L605.0,558.8L610.0,558.1L612.5,555.6L616.2,555.0L615.0,560.0L613.8,563.8L608.8,565.0L605.0,567.5L600.0,566.9L597.5,563.8L598.1,561.2Z" fill="#2f9dc2" stroke="rgba(185,232,246,.85)" stroke-width="1.15"/>
<path d="M591.9,570.0L595.0,566.2L597.5,563.8L600.0,566.9L605.0,567.5L608.8,565.0L610.0,568.1L605.0,569.4L601.2,570.0L600.0,572.5L602.5,576.2L601.2,580.0L598.8,582.5L600.0,586.2L596.9,585.6L595.0,581.2L593.1,577.5L592.5,573.8ZM603.1,591.2L607.5,591.9L606.9,592.8L603.1,592.2Z" fill="#0c215e" stroke="rgba(185,232,246,.85)" stroke-width="1.15"/>
<path d="M610.0,568.1L613.8,566.9L615.0,570.0L611.9,571.2ZM611.9,573.8L615.0,572.5L620.0,570.0L625.0,568.1L631.2,567.5L637.5,568.8L643.8,570.0L650.0,568.8L656.2,568.1L662.5,568.8L665.0,573.8L663.8,580.0L657.5,581.2L650.0,585.0L645.0,585.0L640.0,586.2L638.8,588.8L636.2,586.2L631.2,586.2L626.2,587.5L621.2,586.2L617.5,586.2L613.8,585.0L611.2,581.2L610.6,577.5Z" fill="#1f3a93" stroke="rgba(185,232,246,.85)" stroke-width="1.15"/>
<path d="M553.1,556.2L551.9,550.0L553.8,548.1L557.5,546.9L560.6,545.0L562.5,543.1L566.2,543.8L571.2,545.0L571.2,548.1L568.8,549.4L569.4,553.8L572.5,558.8L577.5,565.0L582.5,569.4L585.0,572.5L583.1,573.8L580.0,571.9L579.4,576.2L580.0,580.0L577.5,581.2L577.5,577.5L575.0,572.5L571.2,568.8L566.2,563.8L562.5,558.8L558.8,556.2L555.0,557.5ZM556.9,571.9L559.4,571.2L559.8,576.9L557.5,577.5L556.6,575.0ZM569.4,582.5L576.2,581.2L576.2,585.0L573.8,586.2L570.0,585.0Z" fill="#0d2263" stroke="rgba(185,232,246,.85)" stroke-width="1.15"/>
<path d="M627.5,592.5L631.2,591.9L630.6,593.5L628.1,593.8Z" fill="#b4e1b6" stroke="#7d9486" stroke-width="0.8"/>
<path d="M602.5,525.0L610.0,523.8L617.5,524.4L625.0,522.5L631.2,521.9L635.0,524.4L636.2,528.8L643.8,531.2L648.8,533.8L650.0,537.5L647.5,541.2L643.8,545.0L638.8,547.5L635.0,550.0L636.2,553.8L631.2,555.0L627.5,552.5L628.8,549.4L623.8,548.8L620.0,550.0L617.5,548.8L615.6,543.1L613.1,540.0L611.2,541.2L607.5,539.4L601.2,538.8L596.2,536.9L595.0,534.4L598.8,532.5L601.2,528.8Z" fill="#52b9c3" stroke="rgba(185,232,246,.85)" stroke-width="1.15"/>
<path d="M606.2,508.8L608.8,505.0L607.5,501.9L612.5,500.0L615.0,497.5L621.2,498.8L626.2,503.8L627.5,511.2L625.0,516.2L625.6,522.2L617.5,524.4L610.0,523.8L602.5,525.0L601.2,528.8L600.0,523.8L600.6,518.8L600.0,512.5L602.5,511.2Z" fill="#c8e8b5" stroke="rgba(185,232,246,.85)" stroke-width="1.15"/>
<path d="M684.4,392.5L686.7,387.8L689.1,380.0L692.2,372.2L696.1,361.2L700.0,356.6L709.4,348.8L718.8,344.1L728.1,338.6L732.8,337.0L733.6,340.9L729.7,345.6L723.4,348.0L715.6,351.9L709.4,357.3L704.7,364.4L700.0,373.8L696.9,383.1L694.5,390.9L696.1,397.2L700.0,401.9L693.8,402.7L689.1,398.8Z" fill="#42a9c4" stroke="rgba(185,232,246,.85)" stroke-width="1.15"/>
<path d="M802.5,280.0L812.5,270.0L817.5,272.5L822.5,285.0L826.2,297.5L823.8,307.5L815.0,306.2L810.0,300.0L805.0,290.0ZM826.2,318.8L832.5,302.5L840.0,310.0L841.2,316.2L832.5,320.0ZM667.5,280.0L672.5,278.8L675.0,282.5L680.0,277.5L682.5,280.0L677.5,285.0L672.5,287.5L668.8,285.0Z" fill="#42a9c4" stroke="rgba(185,232,246,.85)" stroke-width="1.15"/>
<path d="M937.5,350.0L945.0,346.2L957.5,350.0L958.8,358.8L950.0,362.5L942.5,360.0L938.8,355.0ZM963.8,356.2L975.0,358.8L972.5,362.5L965.0,360.0ZM947.5,375.0L953.8,375.0L955.0,378.0L948.8,377.5ZM1060.0,398.8L1065.0,396.2L1069.5,398.0L1066.2,401.2L1061.2,401.2ZM951.2,516.2L953.1,515.0L954.4,521.2L956.2,528.8L956.9,533.8L955.0,537.5L953.1,546.2L951.9,545.6L952.5,537.5L951.9,530.0L951.0,522.5ZM1087.5,458.8L1092.5,460.0L1095.0,462.0L1091.2,461.5Z" fill="#42a9c4" stroke="rgba(185,232,246,.85)" stroke-width="1.15"/>
<path d="M1063.2,415.0L1063.2,446.0" fill="none" stroke="#fff" stroke-width="0.8"/>
<path d="M460.0,443.8L465.0,438.8L475.0,438.0L485.0,437.0L490.0,438.8L491.2,446.2L485.0,453.8L477.5,457.5L470.0,456.2L465.0,452.5L466.2,448.8L461.2,447.5Z" fill="#dff2b2" stroke="#7d9486" stroke-width="0.8"/>
<path d="M562.5,297.5L570.0,290.0L577.5,291.2L582.5,288.8L592.5,305.0L587.5,317.5L582.5,335.0L578.8,337.5L571.2,330.0L566.2,312.5ZM583.8,285.0L591.2,281.2L600.0,280.0L610.0,285.0L611.2,292.5L603.8,298.8L595.0,300.0L587.5,292.5ZM593.8,318.8L598.8,316.2L603.8,322.5L598.8,327.5L593.8,325.0Z" fill="#b4e1b6" stroke="#7d9486" stroke-width="0.8"/>
<path d="M678.1,546.2L675.0,545.0L671.9,543.1L671.2,542.5L670.0,537.5L672.5,531.2L677.5,527.5L685.0,525.0L691.2,525.6L697.5,527.5L705.0,526.9L711.2,525.0L710.0,521.2L712.5,515.0L717.5,511.2L725.0,508.8L732.5,506.2L737.5,505.6L741.2,508.8L747.5,511.2L753.8,513.1L758.8,511.2L761.2,516.2L765.0,521.2L768.8,527.5L777.5,532.5L786.2,540.0L790.0,537.5L782.5,545.0L775.0,547.5L772.5,555.0L766.2,558.8L760.0,560.0L751.2,561.2L745.0,563.8L741.2,566.2L736.2,570.0L732.5,567.5L730.0,563.8L727.5,561.2L722.5,559.4L717.5,560.0L713.8,557.5L708.8,553.8L703.8,551.9L698.1,553.1L697.5,560.0L696.2,567.5L692.5,565.0L690.0,567.5L687.5,565.0L685.0,562.5L682.5,558.8L683.8,555.0L687.5,552.5L688.8,548.1L685.0,545.6Z" fill="#e6f5b2" stroke="rgba(185,232,246,.6)" stroke-width="1.15"/>
<path d="M698.1,553.1L703.8,551.9L708.8,553.8L713.8,557.5L717.5,560.0L722.5,559.4L727.5,561.2L730.0,563.8L732.5,567.5L736.2,570.0L741.2,566.2L745.0,567.5L742.5,571.2L737.5,572.5L733.8,576.2L731.2,582.5L727.5,583.1L722.5,580.0L718.8,576.2L715.0,572.5L711.2,567.5L707.5,565.0L702.5,565.0L697.5,566.2L696.2,567.5L697.5,560.0Z" fill="#dadadd" stroke="#6b6b70" stroke-width="0.8"/>
<path d="M690.0,567.5L692.5,565.0L696.2,567.5L697.5,566.2L702.5,565.0L707.5,565.0L711.2,567.5L715.0,572.5L718.8,576.2L722.5,580.0L727.5,583.1L725.0,586.2L720.0,588.8L716.2,591.2L711.2,588.8L707.5,585.0L701.2,582.5L695.0,581.2L690.0,582.5L690.0,577.5L688.8,570.0Z" fill="#dadadd" stroke="#6b6b70" stroke-width="0.8"/>
<path d="M736.2,570.0L741.2,566.2L745.0,563.8L751.2,561.2L760.0,560.0L766.2,558.8L765.0,563.8L758.8,567.5L752.5,570.0L746.2,572.5L742.5,571.2L745.0,567.5L741.2,568.1Z" fill="#dadadd" stroke="#6b6b70" stroke-width="0.8"/>
<path d="M733.8,576.2L737.5,572.5L742.5,571.2L746.2,572.5L752.5,570.0L753.8,576.2L751.2,581.2L746.2,580.0L742.5,582.5L738.8,581.2L735.0,582.5L731.2,582.5Z" fill="#dadadd" stroke="#6b6b70" stroke-width="0.8"/>
<path d="M711.2,588.8L716.2,591.2L720.0,588.8L725.0,586.2L727.5,583.1L731.2,582.5L735.0,582.5L738.8,581.2L742.5,582.5L746.2,580.0L751.2,581.2L755.0,582.5L751.2,585.0L745.0,587.5L742.5,592.5L740.0,598.8L735.0,602.5L731.2,606.2L726.2,608.8L720.0,611.2L715.0,611.2L711.2,606.2L711.9,600.0L710.0,595.0Z" fill="#b5e2b6" stroke="#7d9486" stroke-width="0.8"/>
<path d="M751.2,585.0L755.0,582.5L760.0,585.0L763.8,590.0L760.0,592.5L755.0,593.8L751.2,598.8L748.8,605.0L745.0,610.0L741.2,615.0L738.8,620.0L740.0,626.2L735.0,628.8L730.0,626.2L722.5,625.6L716.2,625.0L713.8,625.0L716.2,620.0L717.5,616.2L715.0,611.2L720.0,611.2L726.2,608.8L731.2,606.2L735.0,602.5L740.0,598.8L742.5,592.5L745.0,587.5Z" fill="#a3dab8" stroke="#7d9486" stroke-width="0.8"/>
<path d="M665.0,572.5L668.8,573.1L671.2,572.5L673.8,572.5L676.2,576.2L678.1,583.1L682.5,585.6L687.5,585.0L690.0,582.5L695.0,581.2L701.2,582.5L707.5,585.0L711.2,588.8L710.0,595.0L711.9,600.0L711.2,606.2L715.0,611.2L717.5,616.2L716.2,620.0L713.8,625.0L707.5,623.8L701.2,622.5L697.5,620.0L692.5,621.2L687.5,617.5L682.5,612.5L678.8,608.8L675.6,611.9L675.0,606.2L672.5,601.2L668.8,596.2L666.2,590.0L665.0,585.0L662.5,582.5L663.8,577.5Z" fill="#52b9c4" stroke="none" stroke-width="0.8"/>
<path d="M658.1,565.0L665.0,563.8L668.8,565.0L672.5,566.2L671.2,568.8L666.2,568.8L662.5,568.4L660.0,567.5Z" fill="#3fa9c4" stroke="rgba(185,232,246,.85)" stroke-width="1.15"/>
<path d="M666.2,568.8L669.4,569.0L671.2,572.5L668.8,573.1L666.9,571.2Z" fill="#a3dab8" stroke="#7d9486" stroke-width="0.8"/>
<path d="M671.2,568.8L672.5,566.2L676.2,566.2L678.1,570.0L678.8,573.8L676.2,576.2L673.8,572.5L671.2,572.5L669.4,569.0Z" fill="#5fbfc0" stroke="rgba(185,232,246,.85)" stroke-width="1.15"/>
<path d="M640.0,586.2L645.0,584.4L651.2,585.0L657.5,583.1L656.2,588.8L652.5,593.8L647.5,597.5L643.8,600.0L640.6,597.5L640.0,592.5L639.4,589.4Z" fill="#5fbfc0" stroke="rgba(185,232,246,.85)" stroke-width="1.15"/>
<path d="M639.0,593.8L640.6,593.1L640.6,597.5L638.8,598.1Z" fill="#8fd3ba" stroke="#7d9486" stroke-width="0.8"/>
<path d="M635.6,599.4L639.0,598.8L639.8,603.0L638.0,608.8L636.0,613.8L634.4,607.5Z" fill="#45b3c4" stroke="rgba(185,232,246,.85)" stroke-width="1.15"/>
<path d="M639.4,600.0L643.8,600.0L647.5,597.5L648.8,601.2L645.0,605.0L642.5,610.0L639.0,608.8L639.8,602.5Z" fill="#b5e2b6" stroke="#7d9486" stroke-width="0.8"/>
<path d="M657.5,583.1L662.5,582.5L665.0,585.0L666.2,590.0L668.8,596.2L672.5,601.2L675.0,606.2L673.8,610.0L670.0,610.6L665.0,610.0L660.0,606.2L653.8,602.5L648.8,601.2L647.5,597.5L652.5,593.8L656.2,588.8Z" fill="#e0f3b2" stroke="#7d9486" stroke-width="0.8"/>
<path d="M672.5,610.0L675.0,608.8L675.6,611.9L673.5,612.5Z" fill="#dadadd" stroke="#6b6b70" stroke-width="0.8"/>
<path d="M790.0,537.5L800.0,532.5L810.0,528.8L820.0,525.0L822.5,522.5L832.5,527.5L845.0,528.8L855.0,532.5L865.0,533.8L875.0,530.0L882.5,532.5L890.0,536.2L877.5,540.0L873.8,541.2L880.0,547.5L885.0,545.0L877.5,552.5L867.5,555.0L860.0,560.0L850.0,563.8L842.5,566.2L832.5,565.0L822.5,563.8L815.0,560.0L810.0,552.5L802.5,547.5L796.2,542.5Z" fill="#dcdcde" stroke="none" stroke-width="0.8"/>
<path d="M790.0,537.5L796.2,542.5L802.5,547.5L810.0,552.5L815.0,560.0L822.5,563.8L832.5,565.0L842.5,566.2L850.0,563.8L860.0,560.0L867.5,555.0L877.5,552.5L885.0,545.0L880.0,547.5L873.8,541.2L877.5,540.0L890.0,536.2L885.0,530.0L880.0,525.0L882.5,520.0L890.0,517.5L900.0,517.5L907.5,522.5L912.5,530.0L917.5,537.5L922.5,541.2L930.0,540.0L927.5,547.5L922.5,553.8L920.0,560.0L917.5,563.8L912.5,566.2L907.5,570.0L902.5,573.8L900.0,577.5L895.0,575.0L888.8,578.8L890.0,572.5L883.8,576.2L882.5,582.5L887.5,585.0L892.5,582.5L893.8,586.2L886.2,590.0L885.0,595.0L890.0,602.5L891.2,610.0L888.8,617.5L885.0,625.0L880.0,630.0L872.5,635.0L865.0,638.8L860.0,640.0L856.2,642.5L852.5,640.0L847.5,637.5L843.8,633.8L838.8,636.2L835.0,635.0L832.5,638.8L827.5,636.2L825.0,630.0L820.0,625.0L822.5,618.8L818.8,615.0L815.0,616.2L807.5,617.5L800.0,616.2L792.5,615.0L785.0,613.8L777.5,610.0L770.0,606.2L765.0,600.0L762.5,593.8L763.8,590.0L760.0,585.0L755.0,582.5L751.2,581.2L753.8,576.2L752.5,570.0L758.8,567.5L765.0,563.8L766.2,558.8L772.5,555.0L775.0,547.5L782.5,545.0ZM853.0,644.4L856.2,642.5L858.0,644.4L856.2,646.9L853.8,646.9Z" fill="#254a9f" stroke="rgba(185,232,246,.85)" stroke-width="1.15"/>
<path d="M886.2,632.5L888.8,627.5L891.2,625.6L892.5,628.8L890.6,633.8L888.0,635.6Z" fill="#a3dab8" stroke="#5d8f84" stroke-width="0.9"/>
<path d="M763.8,590.0L765.0,600.0L770.0,606.2L771.2,610.0L780.0,613.8L790.0,617.5L791.2,615.0L792.5,618.8L807.5,620.0L815.0,616.2L818.8,615.0L822.5,618.8L820.0,625.0L815.0,627.5L812.5,635.0L808.8,636.2L807.5,630.0L805.0,627.5L800.0,626.2L795.0,625.0L793.8,630.0L795.0,636.2L792.5,640.0L785.0,645.0L777.5,652.5L770.0,657.5L767.5,666.2L765.0,675.0L761.2,678.8L756.2,670.0L752.5,660.0L748.8,650.0L746.2,640.0L740.0,637.5L736.2,632.5L740.0,630.0L740.0,626.2L738.8,620.0L741.2,615.0L745.0,610.0L748.8,605.0L751.2,598.8L755.0,593.8L760.0,592.5L763.8,590.0L760.0,588.0Z" fill="#2455a6" stroke="rgba(185,232,246,.85)" stroke-width="1.15"/>
<path d="M792.2,623.6L795.6,623.1L799.5,624.1L802.9,626.0L804.3,628.9L803.9,632.8L804.3,637.7L802.4,635.8L800.9,632.8L799.0,635.8L796.6,636.7L794.6,632.8L793.1,628.9Z" fill="#b5e2b6" stroke="#7d9486" stroke-width="0.8"/>
<path d="M770.0,606.2L777.5,610.0L785.0,613.8L791.2,615.0L790.0,617.5L780.0,613.8L771.2,610.0Z" fill="#dcdcde" stroke="none" stroke-width="0.8"/>
<path d="M792.5,615.0L800.0,616.2L807.5,617.5L807.5,620.0L792.5,618.8Z" fill="#dcdcde" stroke="none" stroke-width="0.8"/>
<path d="M766.2,676.2L770.0,673.8L772.5,680.0L770.0,685.0L767.0,682.5Z" fill="#a3dab8" stroke="#7d9486" stroke-width="0.8"/>
<path d="M804.3,628.9L802.9,626.0L803.9,620.2L808.2,616.3L813.1,613.4L816.5,612.4L818.0,616.3L818.9,617.8L816.0,619.2L812.1,623.1L808.2,627.0L805.3,631.9L803.9,632.8Z" fill="#2455a6" stroke="none" stroke-width="0.8"/>
<path d="M804.3,637.7L805.3,631.9L808.2,627.0L812.1,623.1L816.0,619.2L818.9,617.8L821.9,618.2L822.8,621.2L820.9,624.1L821.4,628.0L823.8,630.9L825.8,634.8L827.7,638.7L825.8,640.6L822.8,642.6L820.9,646.5L819.9,650.4L818.9,653.3L820.4,658.2L821.9,664.0L822.8,669.8L823.3,673.7L821.9,671.8L820.9,665.9L819.4,658.2L817.0,654.3L813.1,655.2L810.2,654.3L809.2,649.4L808.2,644.5L805.8,640.6Z" fill="#dcdcde" stroke="#77777d" stroke-width="0.8"/>
<path d="M820.9,646.5L822.8,642.6L825.8,641.1L828.7,643.1L829.7,647.4L832.6,649.4L836.5,648.4L840.4,651.3L841.3,656.2L839.4,660.1L835.5,662.1L833.6,664.0L832.6,665.9L830.6,664.0L827.7,662.5L825.8,665.9L824.8,670.8L823.8,674.7L825.8,677.6L827.7,680.6L825.8,680.1L823.3,675.7L822.8,669.8L821.9,664.0L820.4,658.2L818.9,653.3L819.9,650.4Z" fill="#2b93c1" stroke="none" stroke-width="0.8"/>
<path d="M828.7,643.1L827.7,638.7L830.6,637.7L833.1,635.8L834.5,638.7L838.4,640.6L840.4,644.5L843.3,648.4L845.2,653.3L847.2,658.2L846.2,660.1L843.3,660.6L841.3,656.2L840.4,651.3L836.5,648.4L832.6,649.4L829.7,647.4Z" fill="#f0f6b0" stroke="none" stroke-width="0.8"/>
<path d="M833.1,635.8L836.5,633.8L840.4,632.8L844.3,632.4L847.2,634.8L846.2,637.7L843.8,639.7L843.3,642.6L846.2,646.5L849.1,650.4L852.1,656.2L853.5,662.1L852.5,666.9L849.1,670.8L845.2,673.7L842.3,676.2L841.3,673.7L844.3,670.8L847.2,667.9L848.2,664.0L847.7,659.1L847.2,658.2L845.2,653.3L843.3,648.4L840.4,644.5L838.4,640.6L834.5,638.7Z" fill="#2563aa" stroke="rgba(185,232,246,.8)" stroke-width="1.15"/>
<path d="M835.5,662.1L839.4,660.1L843.3,660.6L846.2,660.1L847.7,659.1L848.2,664.0L847.2,667.9L844.3,670.8L840.4,670.8L837.4,668.9L835.0,665.9Z" fill="#ddd6d2" stroke="none" stroke-width="0.8"/>
<path d="M825.8,677.6L827.7,680.6L830.6,683.5L833.6,686.4L836.0,690.3L837.4,695.2L837.9,698.1L835.5,696.6L832.6,693.2L830.1,689.3L828.2,684.9L825.8,680.1Z" fill="#45b3c4" stroke="none" stroke-width="0.8"/>
<path d="M814.4,688.1L818.8,688.1L823.8,692.5L828.8,697.5L833.8,701.9L838.1,706.2L841.9,711.2L843.8,716.2L843.1,720.0L839.4,718.8L835.0,713.8L830.0,707.5L825.6,701.2L821.2,695.0L816.9,691.2ZM844.4,721.9L848.8,721.2L853.8,723.1L860.0,723.8L865.0,725.6L870.6,726.9L871.2,728.1L865.0,727.8L858.8,726.9L852.5,726.2L846.9,725.0ZM854.4,700.0L856.9,698.1L861.2,696.2L865.0,693.8L868.8,690.0L872.5,686.9L876.2,684.4L878.8,683.8L880.0,686.2L881.9,688.8L878.8,691.2L878.1,695.0L880.6,698.8L879.4,702.5L877.5,707.5L875.0,712.5L871.2,713.8L866.2,711.9L861.2,711.9L858.1,709.4L856.9,705.6L854.4,703.1ZM883.8,710.0L885.0,706.2L887.5,705.0L890.0,701.2L895.0,700.6L899.4,699.4L900.0,700.6L895.0,702.5L891.2,703.8L889.4,706.2L891.9,708.8L893.8,712.5L895.0,716.2L893.1,716.9L891.2,713.8L889.4,711.2L888.1,713.8L888.8,718.8L886.2,718.8L885.6,715.0L884.4,713.1ZM908.8,698.1L910.6,698.1L911.0,701.2L909.4,701.9ZM878.1,728.1L881.9,727.8L882.2,729.0L878.5,729.4ZM885.0,730.6L888.8,730.2L889.0,731.2L885.2,731.6ZM897.5,731.2L902.5,728.8L907.5,727.2L908.1,728.5L903.1,730.6L898.8,732.5ZM905.0,712.2L906.9,712.5L906.8,713.4L905.0,713.1ZM911.2,712.2L915.6,712.5L915.6,713.2L911.2,713.1ZM927.5,720.0L929.4,720.2L929.1,721.2L927.5,721.0ZM918.8,706.2L922.5,705.0L926.2,706.2L927.5,708.8L925.0,710.0L927.5,712.5L931.2,713.1L935.0,710.0L938.8,708.8L943.8,710.6L948.1,713.1L948.1,728.8L943.8,726.9L940.0,726.2L941.2,722.5L937.5,720.0L933.8,716.2L930.0,715.0L926.2,713.1L924.4,710.6L921.2,708.1Z" fill="#21409a" stroke="none" stroke-width="0.8"/>
<path d="M854.4,700.0L856.9,698.1L861.2,696.2L865.0,693.8L868.8,690.0L872.5,686.9L876.2,684.4L878.8,683.8L880.0,686.2L881.9,688.8L878.8,691.2L875.0,691.9L872.5,694.4L870.0,697.5L866.2,699.4L862.5,700.6L858.8,701.2L855.6,701.9Z" fill="#4ab7c4" stroke="rgba(185,232,246,.8)" stroke-width="1.15"/>
<path d="M948.1,713.1L953.8,714.4L960.0,717.5L965.0,720.0L968.1,721.2L966.2,723.8L968.8,727.5L970.0,732.5L976.2,736.2L975.0,737.5L967.5,731.9L963.8,728.8L958.8,730.0L953.8,730.6L948.1,728.8ZM968.8,716.2L977.5,712.5L978.8,715.0L971.2,718.8Z" fill="#dcdcde" stroke="#55555c" stroke-width="0.9"/>
<path d="M888.1,649.4L891.2,648.1L893.1,650.6L892.5,655.0L891.2,657.5L893.8,660.0L897.5,662.5L896.2,663.8L892.5,661.9L889.4,660.0L887.5,656.9L886.9,652.5ZM890.0,662.5L891.9,663.1L891.2,665.0L889.8,664.4ZM895.0,667.5L897.5,666.9L898.1,670.0L896.2,671.2ZM900.0,668.1L902.5,667.5L903.1,670.0L901.0,670.6ZM880.0,673.8L885.0,670.0L886.0,670.6L881.2,674.8ZM896.2,678.8L899.4,676.2L902.5,675.0L905.0,676.9L905.6,681.2L903.8,685.0L901.2,684.4L900.0,681.2L897.5,681.2Z" fill="#4ab7c4" stroke="none" stroke-width="0.8"/>
<path d="M901.2,577.5L903.8,573.8L907.5,571.9L911.2,568.8L915.0,565.6L916.9,564.4L916.2,568.1L913.8,571.2L912.5,575.0L911.9,578.8L909.4,580.0L906.2,581.2L902.5,581.2Z" fill="#dcdcde" stroke="#9a9aa0" stroke-width="0.8"/>
<path d="M906.2,581.2L909.4,580.0L911.9,578.8L913.1,582.5L913.8,587.5L911.9,591.9L908.1,593.1L905.6,592.5L906.2,587.5L905.0,583.8Z" fill="#2b8cbe" stroke="none" stroke-width="0.8"/>
<path d="M946.2,562.5L947.5,558.8L950.0,555.0L952.5,553.8L955.0,556.2L958.1,558.1L961.2,559.4L960.0,561.2L956.2,561.9L953.8,565.0L951.2,568.1L947.5,567.5L946.2,565.0ZM947.5,570.0L950.0,571.2L950.6,576.2L949.4,581.2L947.5,586.2L946.2,590.0L942.5,593.1L937.5,594.4L933.8,596.2L930.0,595.0L927.5,596.9L922.5,597.5L918.8,598.8L915.6,600.0L915.0,598.1L918.8,595.0L923.8,592.5L930.0,590.6L933.8,587.5L937.5,585.0L941.2,582.5L945.0,578.8L946.2,573.8ZM915.0,598.8L918.8,599.4L920.0,601.9L918.8,605.0L916.9,604.4L915.6,601.2Z" fill="#1f3f96" stroke="none" stroke-width="0.8"/>
<path d="M923.1,596.0L928.1,594.8" fill="none" stroke="#fff" stroke-width="1.0"/>
<path d="M867.5,770.0L875.0,766.2L885.0,762.5L893.8,756.2L898.8,750.0L905.0,746.2L912.5,745.0L917.5,738.8L925.0,737.5L928.8,740.0L932.5,738.8L936.2,740.0L935.0,747.5L940.0,753.8L945.0,756.2L948.8,750.0L950.0,740.0L953.0,735.0L956.2,743.8L961.2,752.5L965.0,762.5L972.5,770.0L978.8,780.0L983.8,786.2L985.0,792.5L983.8,802.5L978.8,812.5L975.0,820.0L970.0,825.0L965.0,827.5L960.0,826.2L955.0,827.0L950.0,823.8L945.0,817.5L942.5,812.5L938.8,815.0L936.2,810.0L930.0,805.0L922.5,800.0L912.5,800.0L902.5,802.5L895.0,806.2L887.5,807.5L882.5,812.5L875.0,813.8L871.2,810.0L872.5,800.0L870.0,790.0L866.2,780.0ZM959.5,836.2L966.2,835.0L970.0,837.5L967.5,845.0L962.5,846.2L960.0,841.2Z" fill="#80cdbb" stroke="#5d8f84" stroke-width="0.8"/>
<path d="M1041.2,811.2L1043.8,812.5L1047.5,818.8L1051.2,823.8L1058.8,823.8L1057.5,830.0L1052.5,833.8L1048.8,838.8L1046.2,835.0L1047.5,828.8L1046.2,822.5L1043.8,817.5ZM1041.2,836.2L1046.2,840.0L1043.8,845.0L1037.5,851.2L1031.2,857.5L1023.8,857.5L1022.5,853.8L1028.8,848.8L1035.0,842.5Z" fill="#d0edb3" stroke="#7d9486" stroke-width="0.8"/>
<path d="M1016.2,763.8L1020.0,766.2L1025.0,770.0L1023.8,771.2L1018.8,768.0ZM1023.8,746.2L1025.5,748.0L1026.2,752.5L1024.5,751.2ZM1055.0,755.0L1058.8,753.8L1062.5,752.0L1063.0,753.8L1058.8,757.5L1055.5,757.5ZM987.5,718.8L992.5,720.5L993.8,722.5L988.8,720.5ZM996.2,723.8L1002.5,727.0L1003.0,729.0L997.0,725.8ZM1005.0,730.0L1011.2,734.5L1010.5,736.0L1004.5,731.5ZM972.5,718.0L978.8,717.0L983.8,713.8L984.5,715.5L978.8,719.5L973.0,720.0Z" fill="#dcdcde" stroke="#55555c" stroke-width="0.9"/>
<path d="M515.0,589.4L512.5,592.5L506.2,598.8L503.8,605.0L500.0,611.2L496.2,616.2L505.0,615.6L505.6,611.9L512.5,610.0L517.5,607.5L523.1,603.8L527.5,598.8L526.2,593.1L520.0,591.9Z" fill="#45b3c4" stroke="rgba(185,232,246,.9)" stroke-width="1.15"/>
<path d="M526.2,593.1L531.2,590.0L540.0,587.5L548.8,586.2L555.0,586.2L554.4,592.5L553.1,596.2L556.2,601.2L558.8,606.2L560.0,612.5L561.2,620.0L562.5,626.2L565.0,630.0L566.2,631.2L543.8,645.0L506.2,618.8L505.6,611.9L512.5,610.0L517.5,607.5L523.1,603.8L527.5,598.8Z" fill="#2b8cbe" stroke="rgba(185,232,246,.9)" stroke-width="1.15"/>
<path d="M555.0,586.2L559.4,585.0L562.5,587.5L561.2,592.5L563.8,596.2L561.9,600.0L558.8,606.2L556.2,601.2L553.1,596.2L554.4,592.5Z" fill="#2b8cbe" stroke="rgba(185,232,246,.9)" stroke-width="1.15"/>
<path d="M563.8,596.2L567.5,600.0L575.0,601.2L582.5,606.2L588.8,607.5L590.0,602.5L595.0,600.0L601.2,601.2L604.4,603.8L603.8,610.0L605.0,642.5L602.5,643.1L576.2,633.1L572.5,633.8L566.2,631.2L565.0,630.0L562.5,626.2L561.2,620.0L560.0,612.5L558.8,606.2L561.9,600.0Z" fill="#dff2b2" stroke="#7d9486" stroke-width="0.8"/>
<path d="M604.4,603.8L603.8,610.0L605.0,636.2L638.8,635.0L635.0,627.5L631.2,618.8L627.5,610.0L628.5,607.0L631.2,610.0L634.2,616.2L635.5,613.8L635.0,602.5L632.5,601.5L626.2,603.0L623.8,607.5L617.5,608.0L615.0,608.8Z" fill="#45b3c4" stroke="none" stroke-width="0.8"/>
<path d="M540.0,685.0L539.4,676.2L541.2,670.0L543.8,663.8L550.0,661.9L557.5,662.5L563.8,663.1L570.0,662.5L573.1,665.0L574.4,668.1L571.2,672.5L568.8,677.5L565.0,681.2L561.2,683.8L557.5,686.2L555.0,689.4L548.8,690.0L545.0,687.5Z" fill="#eef8b3" stroke="#7d9486" stroke-width="0.8"/>
<path d="M632.5,670.0L636.2,665.0L640.0,661.2L646.2,660.0L653.8,662.5L657.5,667.5L660.0,672.5L667.5,675.0L672.5,677.5L677.5,678.8L670.0,685.0L662.5,690.0L655.0,692.5L647.5,691.2L640.0,687.5L635.0,682.5L631.2,677.5Z" fill="#66c2bf" stroke="#6b6b70" stroke-width="0.8"/>
<path d="M590.0,790.0L590.6,782.5L591.2,780.0L593.8,783.8L598.8,781.9L603.8,780.6L608.8,778.8L611.2,775.0L615.0,771.9L620.0,771.2L623.8,771.9L625.0,776.2L624.4,780.0L622.5,783.1L625.6,785.0L628.1,785.0L626.9,788.8L623.8,793.8L618.8,800.0L612.5,805.0L605.0,807.5L597.5,808.1L588.8,810.0L585.6,806.2L583.8,800.0L580.6,793.1L585.6,790.6Z" fill="#3aa9c8" stroke="rgba(200,235,245,.9)" stroke-width="1.2"/>
<path d="M611.2,793.8L615.0,791.2L618.1,793.8L616.2,797.5L613.1,798.8Z" fill="#c5dfe8" stroke="none" stroke-width="0.8"/>
<path d="M622.5,783.1L625.0,782.5L625.6,785.0L623.1,785.6Z" fill="#dcdcde" stroke="none" stroke-width="0.8"/>
<path d="M660.0,770.0L661.2,761.2L663.8,755.0L668.8,750.0L672.5,745.0L675.0,740.0L677.5,738.8L679.4,743.8L680.6,748.8L678.8,755.0L676.2,762.5L673.8,770.0L671.2,777.5L667.5,780.6L663.1,781.2L660.6,776.2Z" fill="#dcdcde" stroke="#55555c" stroke-width="0.9"/>
<path d="M635.0,613.8L639.0,609.4L642.5,610.0L645.0,605.0L648.8,601.2L653.8,602.5L660.0,606.2L665.0,610.0L670.0,610.6L672.5,610.0L673.8,611.2L677.5,616.2L680.0,621.2L682.5,626.2L685.0,630.0L692.5,633.8L695.0,637.5L691.2,642.5L685.0,646.2L675.0,650.0L671.2,652.5L665.0,651.2L658.8,653.8L653.8,648.8L648.8,641.2L643.8,632.5L638.8,622.5Z" fill="#78cabc" stroke="none" stroke-width="0.8"/>
<path d="M658.8,653.8L665.0,651.2L671.2,652.5L675.0,650.0L685.0,646.2L688.1,652.5L683.8,655.0L675.0,660.0L666.2,663.8L660.0,665.0L660.0,658.8Z" fill="#dcdcde" stroke="#55555c" stroke-width="0.9"/>
<path d="M685.0,646.2L691.2,642.5L695.0,637.5L696.2,627.5L697.5,623.8L702.5,627.5L706.2,631.2L708.1,635.0L705.0,640.0L701.2,646.2L695.0,650.0L688.1,652.5Z" fill="#dcdcde" stroke="#55555c" stroke-width="0.9"/>
<path d="M685.0,630.0L690.0,629.4L695.0,627.5L696.2,627.5L695.0,637.5L692.5,633.8Z" fill="#dcdcde" stroke="#55555c" stroke-width="0.9"/>
<path d="M682.2,622.5L683.8,622.2L684.0,626.2L682.5,626.5Z" fill="#dcdcde" stroke="#55555c" stroke-width="0.9"/>
<path d="M70.0,643.0L72.5,643.5L73.0,646.0L70.5,646.0Z" fill="#2359a6" stroke="none" stroke-width="0.8"/>
<path d="M482.5,637.5L492.5,637.5L493.1,631.2L496.2,630.0L496.9,623.8L505.0,623.1L505.0,618.8" fill="none" stroke="#4c4c52" stroke-width="1.0"/>
<path d="M505.0,623.1L513.1,627.5L513.8,641.2L515.0,656.9L496.9,657.5L495.6,655.6L492.5,655.0L485.0,655.0L480.6,658.8" fill="none" stroke="#4c4c52" stroke-width="1.0"/>
<path d="M495.6,657.5L496.9,662.5L496.9,666.2L491.2,666.2L483.8,667.5" fill="none" stroke="#4c4c52" stroke-width="1.0"/>
<path d="M481.9,661.9L490.0,661.2L490.0,663.1L481.9,663.1" fill="none" stroke="#4c4c52" stroke-width="1.0"/>
<path d="M483.8,667.5L488.8,668.1L493.8,666.2L496.9,666.2L500.0,668.1L503.8,667.5L506.2,671.2L505.6,676.2L502.5,680.0L500.0,677.5L496.9,680.0" fill="none" stroke="#4c4c52" stroke-width="1.0"/>
<path d="M493.1,675.0L496.2,673.1L500.0,675.0L500.0,677.5" fill="none" stroke="#4c4c52" stroke-width="1.0"/>
<path d="M502.5,680.0L505.6,682.5L507.5,686.2L507.5,689.4" fill="none" stroke="#4c4c52" stroke-width="1.0"/>
<path d="M543.8,645.0L542.5,656.2L533.8,658.8L527.5,660.0L523.8,662.5L520.0,663.8L517.5,667.5L516.2,672.5L510.0,673.8L506.2,671.2" fill="none" stroke="#4c4c52" stroke-width="1.0"/>
<path d="M533.8,658.8L536.2,663.8L538.1,667.5L535.0,670.0L530.0,670.6L523.8,671.2L521.9,675.0L516.2,672.5" fill="none" stroke="#4c4c52" stroke-width="1.0"/>
<path d="M505.6,682.5L506.2,676.2L510.0,673.8" fill="none" stroke="#4c4c52" stroke-width="1.0"/>
<path d="M521.9,675.0L522.5,680.0L522.5,688.1" fill="none" stroke="#4c4c52" stroke-width="1.0"/>
<path d="M530.0,670.6L531.2,673.8L532.5,680.0L533.1,686.2" fill="none" stroke="#4c4c52" stroke-width="1.0"/>
<path d="M532.5,671.9L534.4,671.9L535.6,685.6" fill="none" stroke="#4c4c52" stroke-width="1.0"/>
<path d="M538.1,667.5L541.2,670.0" fill="none" stroke="#4c4c52" stroke-width="1.0"/>
<path d="M576.2,633.1L576.9,642.5L575.0,652.5L572.5,658.8L573.1,665.0" fill="none" stroke="#4c4c52" stroke-width="1.0"/>
<path d="M602.5,643.1L601.9,655.0L597.5,660.0L596.2,665.0L600.0,672.5L595.0,675.0L588.8,677.5L582.5,680.0L577.5,681.2L576.2,677.5L574.4,673.8L576.2,670.0L574.4,668.1" fill="none" stroke="#4c4c52" stroke-width="1.0"/>
<path d="M571.2,672.5L574.4,673.8" fill="none" stroke="#4c4c52" stroke-width="1.0"/>
<path d="M577.5,681.2L575.0,682.5L573.8,687.5L576.2,692.5L578.8,696.2L573.8,697.5L567.5,696.9L560.0,697.5" fill="none" stroke="#4c4c52" stroke-width="1.0"/>
<path d="M600.0,672.5L602.5,676.2L607.5,682.5L611.2,687.5L606.2,687.5L600.0,688.8L593.8,691.2L587.5,689.4L583.8,695.0L578.8,696.2" fill="none" stroke="#4c4c52" stroke-width="1.0"/>
<path d="M559.4,698.8L566.2,698.8L566.2,702.5L559.0,703.1" fill="none" stroke="#4c4c52" stroke-width="1.0"/>
<path d="M566.2,698.8L566.2,697.5" fill="none" stroke="#4c4c52" stroke-width="1.0"/>
<path d="M573.8,697.5L573.8,703.8L577.5,705.0L578.8,710.0L576.2,715.0L571.2,716.2L568.8,718.1" fill="none" stroke="#4c4c52" stroke-width="1.0"/>
<path d="M587.5,689.4L586.2,697.5L585.0,706.2L581.2,712.5L578.8,717.5L575.0,720.0L570.0,721.2L568.8,722.5" fill="none" stroke="#4c4c52" stroke-width="1.0"/>
<path d="M605.0,636.2L630.0,636.2" fill="none" stroke="#4c4c52" stroke-width="1.0"/>
<path d="M600.0,672.5L605.0,673.8L610.0,675.0L616.2,672.5L620.0,673.8L625.0,670.0L626.2,667.5L631.2,667.5L635.0,662.5L637.5,658.8" fill="none" stroke="#4c4c52" stroke-width="1.0"/>
<path d="M567.5,720.0L578.8,720.6L581.9,725.0L588.8,725.6L590.6,723.8L596.2,725.0L596.9,735.0L601.2,736.2L601.2,741.2L596.9,741.9L596.9,752.5L592.5,756.2" fill="none" stroke="#4c4c52" stroke-width="1.0"/>
<path d="M565.6,753.8L572.5,755.0L592.5,756.2L601.2,755.6L603.8,756.2" fill="none" stroke="#4c4c52" stroke-width="1.0"/>
<path d="M592.5,756.2L593.1,768.8L590.6,770.0L590.6,782.5" fill="none" stroke="#4c4c52" stroke-width="1.0"/>
<path d="M603.8,756.2L607.5,758.8L611.2,765.0L615.0,770.0L615.0,771.9" fill="none" stroke="#4c4c52" stroke-width="1.0"/>
<path d="M603.8,756.2L612.5,755.0L618.8,750.0L623.8,750.6L627.5,753.8L628.1,760.0L626.2,766.2L623.8,770.0L620.0,771.2" fill="none" stroke="#4c4c52" stroke-width="1.0"/>
<path d="M601.2,736.2L610.0,738.1L615.0,740.0L615.6,742.5L618.8,742.5L618.1,739.4L615.6,738.8L616.2,730.0L620.0,728.1L625.0,730.0L630.0,732.5L629.4,740.0L627.5,745.0L622.5,747.5L620.0,750.0L618.8,750.0" fill="none" stroke="#4c4c52" stroke-width="1.0"/>
<path d="M630.0,732.5L631.9,736.2L632.5,742.5L635.0,745.0L635.6,751.2L633.8,752.5L632.5,748.8L630.6,745.0L629.4,740.0" fill="none" stroke="#4c4c52" stroke-width="1.0"/>
<path d="M633.8,738.1L641.2,737.5L650.6,735.0" fill="none" stroke="#4c4c52" stroke-width="1.0"/>
<path d="M627.5,753.8L630.0,750.0L632.5,748.8" fill="none" stroke="#4c4c52" stroke-width="1.0"/>
<path d="M621.9,707.5L631.2,706.2L640.0,711.2L647.5,718.8" fill="none" stroke="#4c4c52" stroke-width="1.0"/>
<path d="M625.0,730.0L621.2,725.0L618.8,720.0L618.8,711.2L621.9,707.5L621.2,701.2L623.8,695.0L630.0,693.8L633.8,698.8L631.2,706.2" fill="none" stroke="#4c4c52" stroke-width="1.0"/>
<path d="M633.8,698.8L635.0,692.5L641.2,688.8" fill="none" stroke="#4c4c52" stroke-width="1.0"/>
<path d="M647.5,691.9L653.1,693.8L653.1,707.5L650.0,712.5" fill="none" stroke="#4c4c52" stroke-width="1.0"/>
<path d="M618.1,707.5L621.9,707.5" fill="none" stroke="#4c4c52" stroke-width="1.0"/>
<path d="M618.8,711.2L621.2,711.2" fill="none" stroke="#4c4c52" stroke-width="1.0"/>
<path d="M610.0,686.2L621.2,688.8L630.0,687.5L635.0,692.5" fill="none" stroke="#4c4c52" stroke-width="1.0"/>
<path d="M610.0,687.5L615.0,691.2L621.2,692.5L623.8,695.0" fill="none" stroke="#4c4c52" stroke-width="1.0"/>
<path d="M647.5,653.1L645.6,658.8" fill="none" stroke="#4c4c52" stroke-width="1.0"/>
<path d="M660.0,667.8L660.6,671.9L663.8,672.5" fill="none" stroke="#4c4c52" stroke-width="1.0"/>
</g>
</svg>
<div class="btn" style="top:367px"><svg viewBox="0 0 24 24"><path d="M21 21l-5.197-5.197m0 0A7.5 7.5 0 105.196 5.196a7.5 7.5 0 0010.607 10.607zM10.5 7.5v6m3-3h-6"/></svg></div>
<div class="btn" style="top:529px;background:#f1f2f4;border-color:#e4e5e8"><svg viewBox="0 0 24 24"><path d="M21 21l-5.197-5.197m0 0A7.5 7.5 0 105.196 5.196a7.5 7.5 0 0010.607 10.607zM13.5 10.5h-6"/></svg></div>
<div class="btn" style="top:690px"><svg viewBox="0 0 24 24"><path d="M3.75 3.75v4.5m0-4.5h4.5m-4.5 0L9 9M3.75 20.25v-4.5m0 4.5h4.5m-4.5 0L9 15M20.25 3.75h-4.5m4.5 0v4.5m0-4.5L15 9m5.25 11.25h-4.5m4.5 0v-4.5m0 4.5L15 15"/></svg></div>
<div id="ltitle">Best Food Avg Cuisine Score (0-5)</div>
<div class="dot" style="left:54px;top:1016px;background:#ffffd9"></div><div class="li" style="left:100px;top:1012.5px">3.8</div>
<div class="dot" style="left:211px;top:1016px;background:#edf8b1"></div><div class="li" style="left:257px;top:1012.5px">3.9</div>
<div class="dot" style="left:369px;top:1016px;background:#c7e9b4"></div><div class="li" style="left:415px;top:1012.5px">4</div>
<div class="dot" style="left:492px;top:1016px;background:#7fcdbb"></div><div class="li" style="left:538px;top:1012.5px;letter-spacing:-3.5px">4.1</div>
<div class="dot" style="left:638px;top:1016px;background:#41b6c4"></div><div class="li" style="left:686.5px;top:1012.5px">4.2</div>
<div class="dot" style="left:797px;top:1016px;background:#1d91c0"></div><div class="li" style="left:845.5px;top:1012.5px">4.3</div>
<div class="dot" style="left:955px;top:1016px;background:#225ea8"></div><div class="li" style="left:1003.5px;top:1012.5px">4.4</div>
<div class="dot" style="left:1115px;top:1016px;background:#253494"></div><div class="li" style="left:1163.5px;top:1012.5px">4.5</div>
<div class="dot" style="left:585px;top:1082px;background:#081d58"></div><div class="li" style="left:633.5px;top:1078.5px">4.6</div>
</body>
</html>
